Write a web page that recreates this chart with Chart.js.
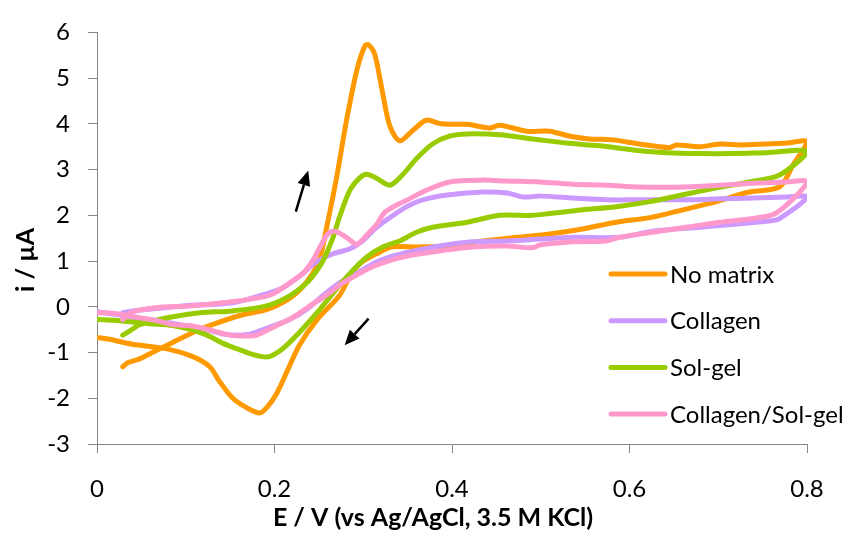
<!DOCTYPE html>
<html>
<head>
<meta charset="utf-8">
<script src="https://cdn.jsdelivr.net/npm/chart.js@4.4.1/dist/chart.umd.min.js"></script>
<style>
  html, body { margin: 0; padding: 0; background: #ffffff; }
  #wrap { position: relative; width: 846px; height: 533px; }
</style>
</head>
<body>
<div id="wrap"><canvas id="cv" width="846" height="533"></canvas></div>
<script>
// Cyclic voltammograms: forward sweep to 0.8 V, then reverse sweep back to 0 V.
const seriesNames = ['No matrix', 'Collagen', 'Sol-gel', 'Collagen/Sol-gel'];
const seriesColors = ['#FF9900', '#CC99FF', '#99CC00', '#FF99CC'];

// Potential E (V) and current i (µA)
const noMatrixE = [0.029,0.035,0.048,0.059,0.079,0.108,0.130,0.161,0.191,0.209,0.228,0.243,0.251,0.259,0.270,0.281,0.293,0.302,0.306,0.313,0.322,0.330,0.341,0.356,0.371,0.386,0.401,0.417,0.442,0.454,0.484,0.510,0.533,0.555,0.581,0.611,0.645,0.653,0.679,0.702,0.724,0.754,0.777,0.800,
  0.784,0.769,0.735,0.698,0.660,0.623,0.585,0.547,0.510,0.473,0.435,0.397,0.360,0.333,0.315,0.296,0.285,0.273,0.248,0.228,0.214,0.202,0.191,0.183,0.169,0.153,0.138,0.127,0.108,0.079,0.040,0.014,0.000];
const noMatrixI = [-1.31,-1.22,-1.14,-1.03,-0.84,-0.56,-0.39,-0.19,-0.06,0.09,0.36,0.73,1.05,1.76,2.83,4.06,5.19,5.71,5.73,5.52,4.66,3.95,3.63,3.86,4.08,4.01,3.99,3.99,3.91,3.97,3.84,3.84,3.73,3.67,3.65,3.56,3.48,3.54,3.50,3.56,3.54,3.56,3.58,3.61,
  3.09,2.62,2.51,2.30,2.12,1.95,1.85,1.70,1.59,1.52,1.44,1.33,1.31,1.31,1.16,0.94,0.67,0.24,-0.28,-0.84,-1.42,-1.91,-2.21,-2.32,-2.21,-2.00,-1.63,-1.31,-1.09,-0.92,-0.82,-0.71,-0.67];

const collagenE = [0.029,0.040,0.097,0.153,0.183,0.209,0.228,0.248,0.266,0.285,0.299,0.315,0.330,0.349,0.367,0.397,0.435,0.462,0.480,0.499,0.536,0.574,0.611,0.664,0.702,0.739,0.777,0.800,
  0.769,0.754,0.716,0.679,0.626,0.589,0.536,0.499,0.462,0.423,0.386,0.352,0.330,0.311,0.293,0.273,0.254,0.236,0.217,0.194,0.172,0.161,0.144,0.127,0.104,0.079,0.048,0.022,0.000];
const collagenI = [-0.13,-0.09,0.02,0.09,0.24,0.41,0.67,0.99,1.16,1.27,1.44,1.74,1.95,2.19,2.34,2.45,2.51,2.49,2.40,2.42,2.38,2.34,2.34,2.34,2.36,2.38,2.40,2.40,
  1.93,1.87,1.80,1.74,1.65,1.52,1.52,1.48,1.44,1.42,1.33,1.20,1.09,0.94,0.73,0.52,0.24,-0.06,-0.28,-0.45,-0.60,-0.62,-0.60,-0.52,-0.43,-0.34,-0.26,-0.17,-0.11];

const solGelE = [0.029,0.040,0.048,0.079,0.116,0.153,0.191,0.217,0.236,0.245,0.254,0.266,0.273,0.285,0.296,0.304,0.315,0.330,0.344,0.360,0.378,0.397,0.417,0.454,0.491,0.529,0.566,0.604,0.642,0.679,0.716,0.754,0.800,
  0.769,0.735,0.698,0.660,0.623,0.585,0.547,0.510,0.491,0.454,0.417,0.378,0.360,0.341,0.322,0.304,0.285,0.266,0.248,0.228,0.209,0.198,0.191,0.175,0.161,0.142,0.124,0.104,0.085,0.059,0.022,0.000];
const solGelI = [-0.62,-0.49,-0.39,-0.24,-0.13,-0.09,0.02,0.24,0.52,0.72,0.98,1.52,1.95,2.55,2.82,2.90,2.81,2.66,2.88,3.24,3.56,3.73,3.78,3.76,3.67,3.58,3.52,3.43,3.37,3.35,3.35,3.37,3.39,
  2.88,2.73,2.60,2.45,2.30,2.19,2.12,2.04,2.00,2.00,1.85,1.74,1.63,1.44,1.31,1.09,0.73,0.30,-0.13,-0.56,-0.92,-1.06,-1.10,-1.04,-0.94,-0.80,-0.62,-0.49,-0.41,-0.37,-0.30,-0.28];

const colSolE = [0.029,0.040,0.067,0.104,0.142,0.180,0.198,0.217,0.232,0.243,0.253,0.260,0.268,0.277,0.285,0.293,0.304,0.315,0.324,0.338,0.352,0.369,0.397,0.435,0.462,0.499,0.536,0.574,0.611,0.664,0.702,0.739,0.777,0.800,
  0.766,0.739,0.702,0.664,0.626,0.589,0.574,0.536,0.499,0.491,0.462,0.423,0.386,0.352,0.330,0.311,0.296,0.277,0.259,0.240,0.220,0.198,0.180,0.169,0.150,0.124,0.104,0.085,0.067,0.048,0.029,0.011,0.000];
const colSolI = [-0.28,-0.11,-0.02,0.02,0.09,0.19,0.28,0.52,0.73,1.01,1.37,1.59,1.65,1.57,1.46,1.37,1.57,1.80,2.06,2.23,2.36,2.53,2.73,2.77,2.75,2.73,2.68,2.66,2.62,2.62,2.66,2.70,2.73,2.73,
  2.06,1.93,1.85,1.74,1.63,1.52,1.44,1.42,1.35,1.29,1.33,1.31,1.22,1.12,1.01,0.88,0.73,0.52,0.26,0.02,-0.24,-0.45,-0.62,-0.64,-0.62,-0.49,-0.41,-0.39,-0.30,-0.24,-0.17,-0.13,-0.13];

const xTicks = [0, 0.2, 0.4, 0.6, 0.8];
const yTicks = [-3, -2, -1, 0, 1, 2, 3, 4, 5, 6];

// Sweep-direction arrows: [E tail, i tail, E tip, i tip]
const sweepArrows = [
  [0.224, 2.08, 0.238, 2.98],
  [0.306, -0.26, 0.279, -0.84]
];

const FONT = 'Lato, "Open Sans", sans-serif';
const AXIS_GREY = '#868686';

function zip(es, is) {
  const n = Math.min(es.length, is.length);
  const pts = [];
  for (let k = 0; k < n; k++) pts.push({ x: es[k], y: is[k] });
  return pts;
}

const seriesData = [
  zip(noMatrixE, noMatrixI),
  zip(collagenE, collagenI),
  zip(solGelE, solGelI),
  zip(colSolE, colSolI)
];

const datasets = seriesNames.map((name, k) => ({
  label: name,
  data: seriesData[k],
  showLine: true,
  borderColor: seriesColors[k],
  backgroundColor: seriesColors[k],
  borderWidth: 5,
  pointRadius: 0,
  pointHoverRadius: 0,
  tension: 0.3,
  borderJoinStyle: 'round',
  borderCapStyle: 'round',
  fill: false,
  order: seriesNames.length - k
}));

function drawArrow(ctx, x0, y0, x1, y1) {
  const ang = Math.atan2(y1 - y0, x1 - x0);
  const headLen = 15, halfW = 6.5;
  const bx = x1 - headLen * Math.cos(ang), by = y1 - headLen * Math.sin(ang);
  ctx.beginPath();
  ctx.moveTo(x0, y0);
  ctx.lineTo(bx, by);
  ctx.lineWidth = 2.5;
  ctx.strokeStyle = '#000';
  ctx.stroke();
  ctx.beginPath();
  ctx.moveTo(x1, y1);
  ctx.lineTo(bx + halfW * Math.sin(ang), by - halfW * Math.cos(ang));
  ctx.lineTo(bx - halfW * Math.sin(ang), by + halfW * Math.cos(ang));
  ctx.closePath();
  ctx.fillStyle = '#000';
  ctx.fill();
}

const overlay = {
  id: 'overlay',
  afterDatasetsDraw(chart) {
    const { ctx } = chart;
    const xs = chart.scales.x, ys = chart.scales.y;
    ctx.save();
    sweepArrows.forEach(a => {
      drawArrow(ctx, xs.getPixelForValue(a[0]), ys.getPixelForValue(a[1]),
                     xs.getPixelForValue(a[2]), ys.getPixelForValue(a[3]));
    });
    ctx.restore();
  },
  afterDraw(chart) {
    const { ctx } = chart;
    ctx.save();
    // legend
    const legX = 611, legLine = 54, legTop = 274, legStep = 46.7;
    ctx.font = '24px ' + FONT;
    ctx.textAlign = 'left';
    ctx.textBaseline = 'middle';
    seriesNames.forEach((name, k) => {
      const yy = legTop + k * legStep;
      ctx.beginPath();
      ctx.moveTo(legX, yy);
      ctx.lineTo(legX + legLine, yy);
      ctx.strokeStyle = seriesColors[k];
      ctx.lineWidth = 5;
      ctx.lineCap = 'round';
      ctx.stroke();
      ctx.fillStyle = '#000';
      ctx.fillText(name, legX + legLine + 5, yy + 1);
    });
    // axis titles
    ctx.font = 'bold 25px ' + FONT;
    ctx.fillStyle = '#000';
    ctx.textAlign = 'center';
    ctx.textBaseline = 'middle';
    ctx.fillText('E / V (vs Ag/AgCl, 3.5 M KCl)', 433, 518);
    ctx.translate(26, 260);
    ctx.rotate(-Math.PI / 2);
    ctx.fillText('i / µA', 0, 0);
    ctx.restore();
  }
};

new Chart(document.getElementById('cv'), {
  type: 'scatter',
  data: { datasets },
  plugins: [overlay],
  options: {
    responsive: false,
    animation: false,
    devicePixelRatio: 1,
    layout: { padding: { top: 25, right: 39, bottom: 0, left: 0 } },
    plugins: { legend: { display: false }, tooltip: { enabled: false } },
    scales: {
      x: {
        type: 'linear',
        min: 0, max: 0.8,
        afterBuildTicks: s => { s.ticks = xTicks.map(v => ({ value: v })); },
        afterFit: s => { s.height = 89; },
        ticks: {
          color: '#000',
          font: { family: FONT, size: 24 },
          padding: 22,
          maxRotation: 0,
          callback: v => String(v)
        },
        grid: { drawOnChartArea: false, drawTicks: true, tickLength: 9, color: AXIS_GREY, lineWidth: 1 },
        border: { display: true, color: AXIS_GREY, width: 1 }
      },
      y: {
        type: 'linear',
        min: -3, max: 6,
        afterBuildTicks: s => { s.ticks = yTicks.map(v => ({ value: v })); },
        afterFit: s => { s.width = 97; },
        ticks: {
          color: '#000',
          font: { family: FONT, size: 24 },
          padding: 18,
          callback: v => String(v)
        },
        grid: { drawOnChartArea: false, drawTicks: true, tickLength: 9, color: AXIS_GREY, lineWidth: 1 },
        border: { display: true, color: AXIS_GREY, width: 1 }
      }
    }
  }
});
</script>
</body>
</html>
